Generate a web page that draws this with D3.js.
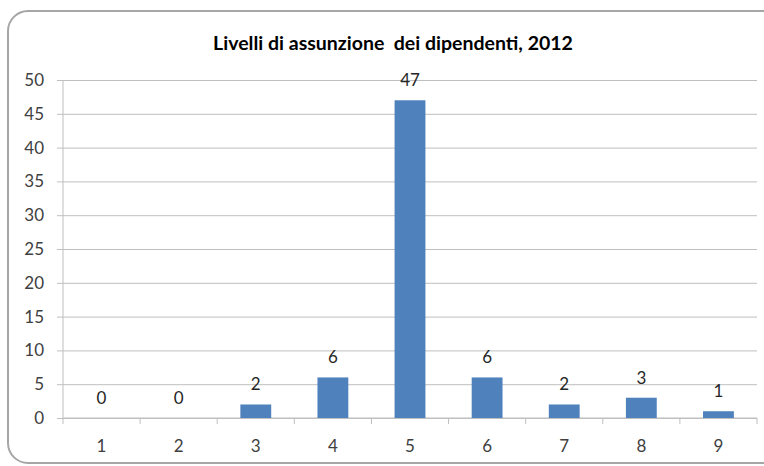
<!DOCTYPE html>
<html>
<head>
<meta charset="utf-8">
<script src="https://cdn.jsdelivr.net/npm/d3@7"></script>
<style>
  body { margin: 0; background: #fff; }
  svg { display: block; font-family: Lato, "Open Sans", sans-serif; }
</style>
</head>
<body>
<svg id="canvas" width="764" height="466"></svg>
<script>
// chart data
const categories = ['1', '2', '3', '4', '5', '6', '7', '8', '9']
const values = [0, 0, 2, 6, 47, 6, 2, 3, 1]
const yTicks = [0, 5, 10, 15, 20, 25, 30, 35, 40, 45, 50]
const title = 'Livelli di assunzione\u00a0 dei dipendenti, 2012'

let svg = d3.select('#canvas')

// frame
svg.append('rect')
   .attr('x', 8).attr('y', 11)
   .attr('width', 780).attr('height', 452)
   .attr('rx', 20).attr('ry', 20)
   .attr('fill', '#fff')
   .attr('stroke', '#a6a6a6')
   .attr('stroke-width', 2)

let plotLeft = 63, plotRight = 757, plotTop = 80, plotBottom = 418

let xScale = d3.scaleBand()
               .domain(categories)
               .range([plotLeft, plotRight])
               .paddingInner(0.6)
               .paddingOuter(0.3)

let yScale = d3.scaleLinear()
               .domain([0, 50])
               .range([plotBottom, plotTop])

// gridlines
svg.append('g')
   .attr('transform', 'translate(' + plotLeft + ',0)')
   .call(d3.axisLeft(yScale).tickValues(yTicks).tickSize(-(plotRight - plotLeft)).tickFormat(''))
   .call(g => g.select('.domain').remove())
   .selectAll('line').attr('stroke', '#bfbfbf')

// y axis
let yAxis = svg.append('g')
   .attr('transform', 'translate(' + plotLeft + ',0)')
   .call(d3.axisLeft(yScale).tickValues(yTicks).tickSize(6).tickPadding(13))
yAxis.select('.domain').attr('stroke', '#bfbfbf').attr('d', 'M0,' + plotTop + 'V' + plotBottom)
yAxis.selectAll('line').attr('stroke', '#bfbfbf')
yAxis.selectAll('text').attr('font-size', 17).attr('fill', '#404040')
     .attr('font-family', 'Lato, "Open Sans", sans-serif')

// x axis with ticks at band boundaries
let step = (plotRight - plotLeft) / categories.length
let xAxis = svg.append('g')
   .attr('transform', 'translate(0,' + plotBottom + ')')
xAxis.append('line')
     .attr('x1', plotLeft).attr('x2', plotRight)
     .attr('stroke', '#bfbfbf')
xAxis.selectAll('.tickmark')
     .data(d3.range(categories.length + 1))
     .enter()
     .append('line')
     .attr('class', 'tickmark')
     .attr('x1', i => plotLeft + i * step).attr('x2', i => plotLeft + i * step)
     .attr('y1', 0).attr('y2', 6)
     .attr('stroke', '#bfbfbf')
xAxis.selectAll('.label')
     .data(categories)
     .enter()
     .append('text')
     .attr('class', 'label')
     .attr('x', c => xScale(c) + xScale.bandwidth() / 2)
     .attr('y', 34)
     .attr('text-anchor', 'middle')
     .attr('font-size', 17)
     .attr('fill', '#404040')
     .text(c => c)

// bars
svg.selectAll('.bar')
   .data(values)
   .enter()
   .append('rect')
   .attr('class', 'bar')
   .attr('x', (v, i) => xScale(categories[i]))
   .attr('y', v => yScale(v))
   .attr('width', xScale.bandwidth())
   .attr('height', v => plotBottom - yScale(v))
   .attr('fill', '#4f81bd')

// value labels
svg.selectAll('.value')
   .data(values)
   .enter()
   .append('text')
   .attr('class', 'value')
   .attr('x', (v, i) => xScale(categories[i]) + xScale.bandwidth() / 2)
   .attr('y', v => yScale(v) - 14)
   .attr('text-anchor', 'middle')
   .attr('font-size', 17)
   .attr('fill', '#262626')
   .text(v => v)

// title
svg.append('text')
   .attr('x', 393)
   .attr('y', 50)
   .attr('text-anchor', 'middle')
   .attr('font-size', 19.5)
   .attr('font-weight', 'bold')
   .attr('fill', '#000')
   .text(title)
</script>
</body>
</html>
